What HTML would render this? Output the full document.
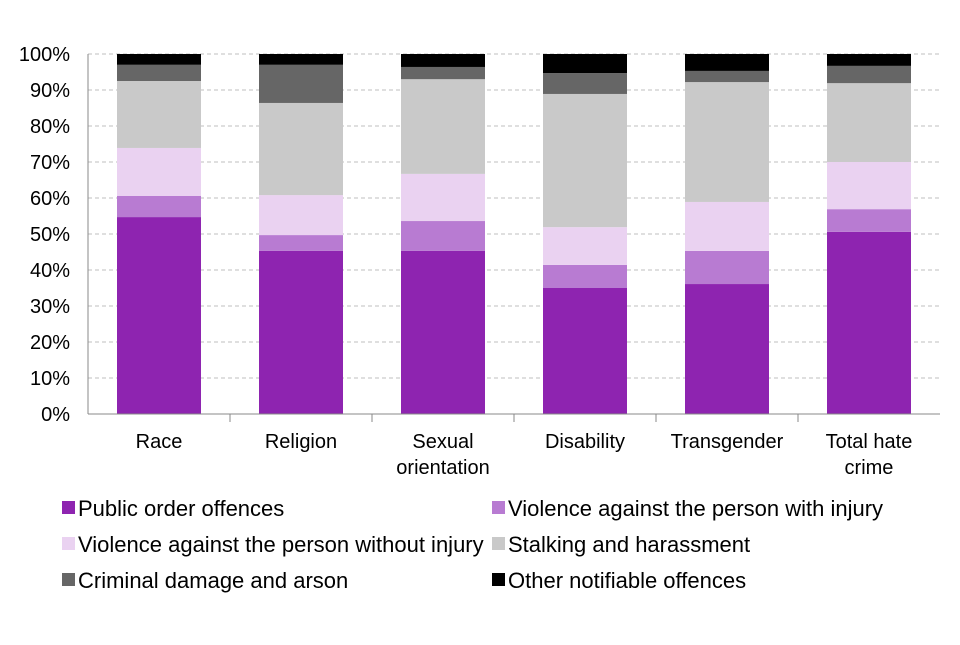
<!DOCTYPE html>
<html><head><meta charset="utf-8"><style>
body{margin:0;background:#fff;font-family:"Liberation Sans",Arial,sans-serif}
svg text{font-family:"Liberation Sans",Arial,sans-serif;fill:#000}
</style></head><body>
<svg id="c" width="960" height="640"></svg>
<script>
const categories=[["Race"],["Religion"],["Sexual","orientation"],["Disability"],["Transgender"],["Total hate","crime"]];
const seriesNames=["Public order offences","Violence against the person with injury","Violence against the person without injury","Stalking and harassment","Criminal damage and arson","Other notifiable offences"];
const publicOrder=[54.7,45.3,45.3,35.0,36.1,50.6];
const injury=[5.9,4.4,8.3,6.4,9.2,6.3];
const noInjury=[13.3,11.1,13.1,10.5,13.6,13.1];
const stalking=[18.6,25.6,26.3,37.0,33.3,21.9];
const criminal=[4.5,10.6,3.4,5.8,3.1,4.8];
const other=[3.0,3.0,3.6,5.3,4.7,3.3];
const yTicks=[0,10,20,30,40,50,60,70,80,90,100];
const colors=["#8e24b0","#b87bd2","#ead2f1","#c9c9c9","#666666","#000000"];
const series=[publicOrder,injury,noInjury,stalking,criminal,other];
const NS="http://www.w3.org/2000/svg",svg=document.getElementById("c");
function el(t,a,p){const e=document.createElementNS(NS,t);for(const k in a)e.setAttribute(k,a[k]);(p||svg).appendChild(e);return e;}
const x0=88,x1=940,y0=414,y1=54;
const y=v=>y0-(v/100)*(y0-y1);
const band=(x1-x0)/categories.length;
const xc=i=>x0+band*(i+0.5);
yTicks.forEach(t=>{
  if(t>0){const g=el("line",{x1:x0,x2:x1,y1:y(t),y2:y(t),stroke:"#bfbfbf","stroke-dasharray":"4,3"});
  
  }
  const tx=el("text",{x:x0-18,y:y(t)+7,"text-anchor":"end","font-size":"20"});tx.textContent=t+"%";
  
  
});
const bw=84;
categories.forEach((c,i)=>{
  let acc=0;
  series.forEach((s,k)=>{
    const r=el("rect",{x:xc(i)-bw/2,y:y(acc+s[i]),width:bw,height:y(acc)-y(acc+s[i]),fill:colors[k]});
    
    
    acc+=s[i];
  });
  c.forEach((l,j)=>{const t=el("text",{x:xc(i),y:448+j*26,"text-anchor":"middle","font-size":"20"});t.textContent=l;
    
    });
  if(i>0){const tk=el("line",{x1:x0+band*i,x2:x0+band*i,y1:y0,y2:y0+8,stroke:"#888"});
  
  }
});
const ax=el("line",{x1:x0,x2:x1,y1:y0,y2:y0,stroke:"#888"});


const ay=el("line",{x1:x0,x2:x0,y1:y1,y2:y0,stroke:"#888"});


seriesNames.forEach((n,k)=>{
  const lx=k%2?492:62,ly=508+Math.floor(k/2)*36;
  const sq=el("rect",{x:lx,y:ly-7,width:13,height:13,fill:colors[k]});
  
  
  const t=el("text",{x:lx+16,y:ly+8,"font-size":"22"});t.textContent=n;
  
  
});
</script>
</body></html>
